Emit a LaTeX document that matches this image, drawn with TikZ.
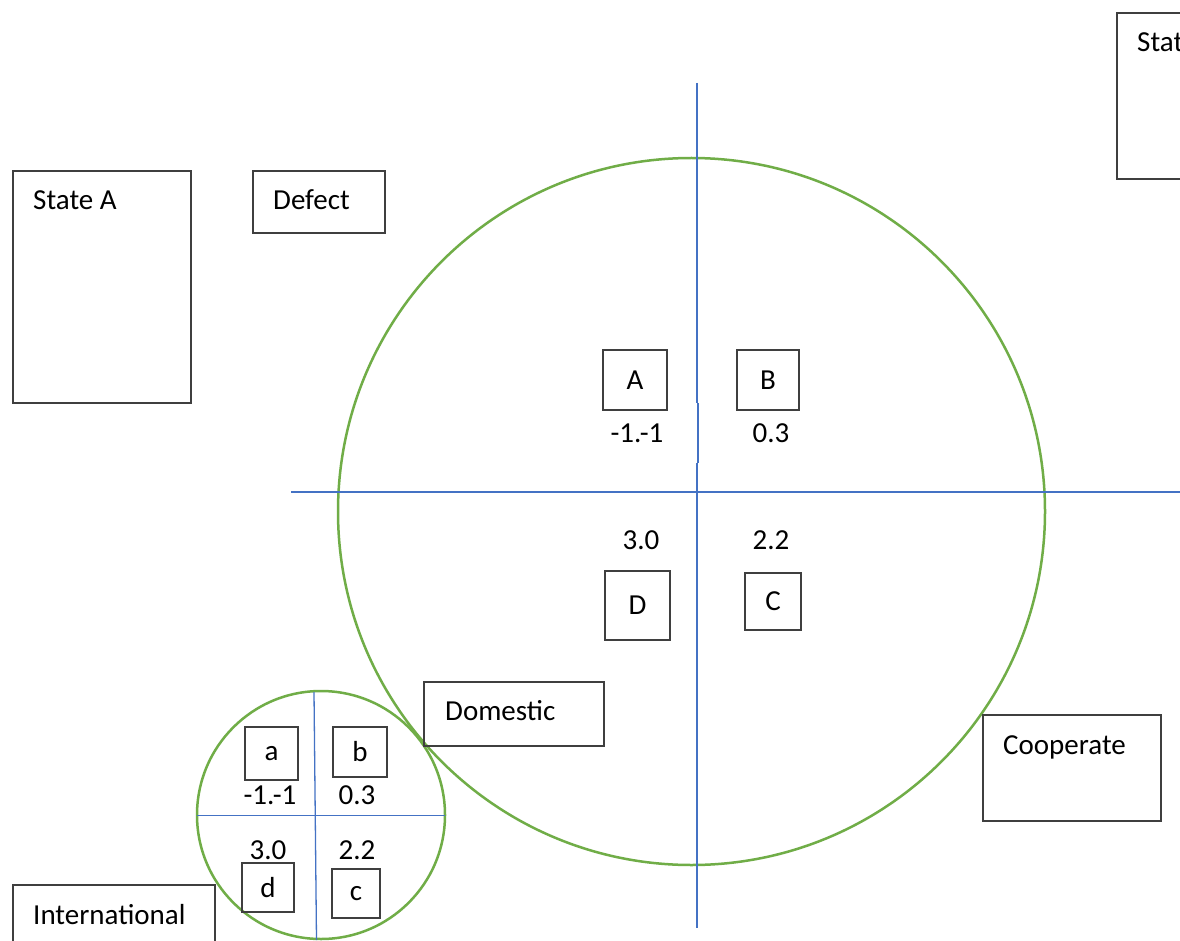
\documentclass[tikz,border=0pt]{standalone}
\usepackage{fontspec}
\setmainfont{Carlito}
\usetikzlibrary{calc}
\definecolor{ringgreen}{HTML}{70AD47}
\definecolor{axisblue}{HTML}{4472C4}
\definecolor{boxgray}{HTML}{3F3F3F}
\tikzset{
  box/.style={draw=boxgray, line width=1.3pt, fill=none, inner sep=0pt, rectangle},
  lbl/.style={inner sep=0pt, font=\fontsize{29}{35}\selectfont, text=black},
  ring/.style={draw=ringgreen, line width=2.5pt},
  axis/.style={draw=axisblue, line width=1.3pt}
}
\begin{document}
\begin{tikzpicture}[x=1pt,y=-1pt]
\useasboundingbox (0,0) rectangle (1180,941);
\clip (0,0) rectangle (1180,941);
\fill[white] (0,0) rectangle (1180,941);

% large circle and axes
\node[circle, ring, minimum size=707pt, inner sep=0pt] (bigring) at (691.5,511.5) {};
\coordinate (vtop) at (697,83);
\coordinate (vgapA) at (697,403);
\coordinate (vmidA) at (698,403);
\coordinate (vmidB) at (698,463);
\coordinate (vgapB) at (697,463);
\coordinate (vbot) at (697,928);
\coordinate (hleft) at (291,492);
\coordinate (hright) at (1182,492);
\draw[axis] (vtop) -- (vgapA);
\draw[axis] (vmidA) -- (vmidB);
\draw[axis] (vgapB) -- (vbot);
\draw[axis] (hleft) -- (hright);

% small circle and axes
\node[circle, ring, minimum size=248pt, inner sep=0pt] (smallring) at (321,815) {};
\coordinate (svtop) at (314,692);
\coordinate (svbot) at (316.5,940);
\coordinate (shleft) at (197,815.5);
\coordinate (shright) at (445,815.5);
\draw[axis] (svtop) -- (svbot);
\draw[axis] (shleft) -- (shright);

% outer labelled boxes
\node[box, minimum width=178pt, minimum height=232pt] (stateA) at (102,287) {};
\node[lbl, anchor=base west] (stateAtxt) at (33,209.5) {State A};
\node[box, minimum width=132pt, minimum height=62pt] (defect) at (319,202) {};
\node[lbl, anchor=base west] (defecttxt) at (273,209.5) {Defect};
\node[box, minimum width=178pt, minimum height=166pt] (stateB) at (1206,96) {};
\node[lbl, anchor=base west] (stateBtxt) at (1137,51.5) {State B};
\node[box, minimum width=180pt, minimum height=64pt] (domestic) at (514,714) {};
\node[lbl, anchor=base west] (domestictxt) at (445,720.5) {Domestic};
\node[box, minimum width=178pt, minimum height=106pt] (cooperate) at (1072,768) {};
\node[lbl, anchor=base west] (cooperatetxt) at (1003,754) {Cooperate};
\node[box, minimum width=202pt, minimum height=80pt] (international) at (114,925) {};
\node[lbl, anchor=base west] (internationaltxt) at (33,924.5) {International};

% big quadrant boxes
\node[box, lbl, draw=boxgray, minimum width=64pt, minimum height=60pt] (A) at (635,380) {A};
\node[box, lbl, draw=boxgray, minimum width=62pt, minimum height=60pt] (B) at (768,380) {B};
\node[box, lbl, draw=boxgray, minimum width=65pt, minimum height=69pt] (D) at (637.5,605.5) {D};
\node[box, lbl, draw=boxgray, minimum width=56pt, minimum height=57pt] (C) at (773,601.5) {C};
\node[lbl] (pA) at (637,433) {-1.-1};
\node[lbl] (pB) at (771,433) {0.3};
\node[lbl] (pD) at (641,540) {3.0};
\node[lbl] (pC) at (771,540) {2.2};

% small quadrant boxes
\node[box, lbl, draw=boxgray, minimum width=53pt, minimum height=53pt] (a) at (271.5,753.5) {a};
\node[box, lbl, draw=boxgray, minimum width=54pt, minimum height=50pt] (b) at (360,752) {b};
\node[box, lbl, draw=boxgray, minimum width=52pt, minimum height=49pt] (d) at (268,887.5) {d};
\node[box, lbl, draw=boxgray, minimum width=48pt, minimum height=49pt] (c) at (356,893.5) {c};
\node[lbl] (pa) at (270,795) {-1.-1};
\node[lbl] (pb) at (357,795) {0.3};
\node[lbl] (pd) at (268,850) {3.0};
\node[lbl] (pc) at (357,850) {2.2};
\end{tikzpicture}
\end{document}
